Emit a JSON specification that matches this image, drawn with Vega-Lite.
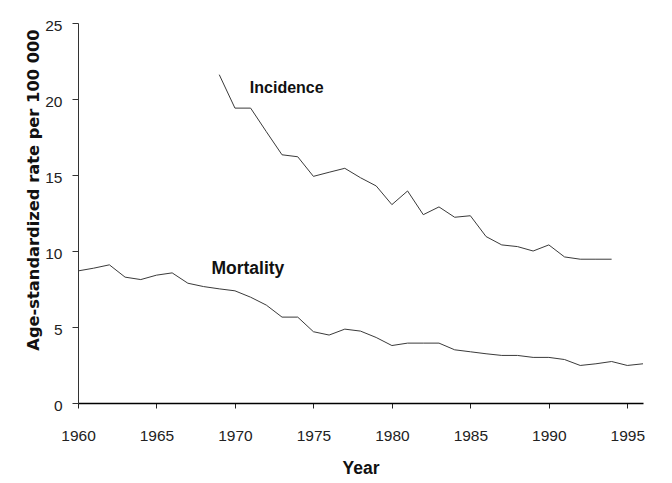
{
  "$schema": "https://vega.github.io/schema/vega-lite/v6.json",
  "autosize": "none",
  "padding": {"left": 78, "top": 23, "right": 29, "bottom": 80},
  "width": 565,
  "height": 380,
  "background": "white",
  "config": {"view": {"stroke": null}},
  "datasets": {
    "rates": [
      {"series": "Mortality", "year": 1960, "rate": 8.69},
      {"series": "Mortality", "year": 1961, "rate": 8.87},
      {"series": "Mortality", "year": 1962, "rate": 9.09},
      {"series": "Mortality", "year": 1963, "rate": 8.28},
      {"series": "Mortality", "year": 1964, "rate": 8.12},
      {"series": "Mortality", "year": 1965, "rate": 8.41},
      {"series": "Mortality", "year": 1966, "rate": 8.56},
      {"series": "Mortality", "year": 1967, "rate": 7.88},
      {"series": "Mortality", "year": 1968, "rate": 7.66},
      {"series": "Mortality", "year": 1969, "rate": 7.51},
      {"series": "Mortality", "year": 1970, "rate": 7.38},
      {"series": "Mortality", "year": 1971, "rate": 6.96},
      {"series": "Mortality", "year": 1972, "rate": 6.44},
      {"series": "Mortality", "year": 1973, "rate": 5.65},
      {"series": "Mortality", "year": 1974, "rate": 5.65},
      {"series": "Mortality", "year": 1975, "rate": 4.69},
      {"series": "Mortality", "year": 1976, "rate": 4.47},
      {"series": "Mortality", "year": 1977, "rate": 4.86},
      {"series": "Mortality", "year": 1978, "rate": 4.73},
      {"series": "Mortality", "year": 1979, "rate": 4.31},
      {"series": "Mortality", "year": 1980, "rate": 3.78},
      {"series": "Mortality", "year": 1981, "rate": 3.94},
      {"series": "Mortality", "year": 1982, "rate": 3.94},
      {"series": "Mortality", "year": 1983, "rate": 3.94},
      {"series": "Mortality", "year": 1984, "rate": 3.5},
      {"series": "Mortality", "year": 1985, "rate": 3.37},
      {"series": "Mortality", "year": 1986, "rate": 3.24},
      {"series": "Mortality", "year": 1987, "rate": 3.13},
      {"series": "Mortality", "year": 1988, "rate": 3.13},
      {"series": "Mortality", "year": 1989, "rate": 3.0},
      {"series": "Mortality", "year": 1990, "rate": 3.0},
      {"series": "Mortality", "year": 1991, "rate": 2.86},
      {"series": "Mortality", "year": 1992, "rate": 2.47},
      {"series": "Mortality", "year": 1993, "rate": 2.58},
      {"series": "Mortality", "year": 1994, "rate": 2.73},
      {"series": "Mortality", "year": 1995, "rate": 2.47},
      {"series": "Mortality", "year": 1996, "rate": 2.58},
      {"series": "Incidence", "year": 1969, "rate": 21.6},
      {"series": "Incidence", "year": 1970, "rate": 19.4},
      {"series": "Incidence", "year": 1971, "rate": 19.4},
      {"series": "Incidence", "year": 1972, "rate": 17.85},
      {"series": "Incidence", "year": 1973, "rate": 16.33},
      {"series": "Incidence", "year": 1974, "rate": 16.2},
      {"series": "Incidence", "year": 1975, "rate": 14.91},
      {"series": "Incidence", "year": 1976, "rate": 15.18},
      {"series": "Incidence", "year": 1977, "rate": 15.44},
      {"series": "Incidence", "year": 1978, "rate": 14.82},
      {"series": "Incidence", "year": 1979, "rate": 14.28},
      {"series": "Incidence", "year": 1980, "rate": 13.05},
      {"series": "Incidence", "year": 1981, "rate": 13.95},
      {"series": "Incidence", "year": 1982, "rate": 12.39},
      {"series": "Incidence", "year": 1983, "rate": 12.9},
      {"series": "Incidence", "year": 1984, "rate": 12.22},
      {"series": "Incidence", "year": 1985, "rate": 12.32},
      {"series": "Incidence", "year": 1986, "rate": 10.95},
      {"series": "Incidence", "year": 1987, "rate": 10.4},
      {"series": "Incidence", "year": 1988, "rate": 10.29},
      {"series": "Incidence", "year": 1989, "rate": 10.0},
      {"series": "Incidence", "year": 1990, "rate": 10.4},
      {"series": "Incidence", "year": 1991, "rate": 9.61},
      {"series": "Incidence", "year": 1992, "rate": 9.46},
      {"series": "Incidence", "year": 1993, "rate": 9.46},
      {"series": "Incidence", "year": 1994, "rate": 9.46}
    ]
  },
  "layer": [
    {
      "data": {"name": "rates"},
      "mark": {"type": "line", "stroke": "#3a3a3a", "strokeWidth": 1, "clip": false},
      "encoding": {
        "x": {
          "field": "year",
          "type": "quantitative",
          "scale": {"domain": [1960, 1996], "nice": false, "zero": false},
          "axis": {
            "values": [1960, 1965, 1970, 1975, 1980, 1985, 1990, 1995],
            "format": "d",
            "grid": false,
            "title": "Year",
            "titleFont": "Liberation Sans",
            "titleFontSize": 17.5,
            "titleFontWeight": "bold",
            "titleColor": "#111",
            "titleX": 282.5,
            "titleY": 70,
            "titleAlign": "center",
            "titleBaseline": "alphabetic",
            "labelFont": "Liberation Sans",
            "labelFontSize": 15.5,
            "labelColor": "#222",
            "labelPadding": 20,
            "labelFlush": false,
            "domainColor": "#000",
            "domainWidth": 1.5,
            "tickColor": "#222",
            "tickSize": 5,
            "tickWidth": 1
          }
        },
        "y": {
          "field": "rate",
          "type": "quantitative",
          "scale": {"domain": [0, 25], "nice": false},
          "axis": {
            "values": [0, 5, 10, 15, 20, 25],
            "grid": false,
            "title": "Age-standardized rate per 100 000",
            "titleFont": "DejaVu Sans",
            "titleFontSize": 16.3,
            "titleFontWeight": "bold",
            "titleColor": "#111",
            "titleAngle": -90,
            "titleX": -40,
            "titleY": 166.5,
            "titleAlign": "center",
            "titleBaseline": "alphabetic",
            "labelFont": "Liberation Sans",
            "labelFontSize": 15.5,
            "labelColor": "#222",
            "labelPadding": 10,
            "labelOffset": 2,
            "labelFlush": false,
            "domainColor": "#333",
            "domainWidth": 1,
            "tickColor": "#333",
            "tickSize": 6,
            "tickWidth": 1
          }
        },
        "detail": {"field": "series", "type": "nominal"}
      }
    },
    {
      "data": {"values": [{"label": "Incidence", "year": 1970.95, "rate": 20.37}]},
      "mark": {"type": "text", "align": "left", "baseline": "alphabetic", "font": "Liberation Sans", "fontWeight": "bold", "fontSize": 16, "color": "#111"},
      "encoding": {
        "x": {"field": "year", "type": "quantitative"},
        "y": {"field": "rate", "type": "quantitative"},
        "text": {"field": "label", "type": "nominal"}
      }
    },
    {
      "data": {"values": [{"label": "Mortality", "year": 1968.5, "rate": 8.5}]},
      "mark": {"type": "text", "align": "left", "baseline": "alphabetic", "font": "Liberation Sans", "fontWeight": "bold", "fontSize": 17.5, "color": "#111"},
      "encoding": {
        "x": {"field": "year", "type": "quantitative"},
        "y": {"field": "rate", "type": "quantitative"},
        "text": {"field": "label", "type": "nominal"}
      }
    }
  ]
}
